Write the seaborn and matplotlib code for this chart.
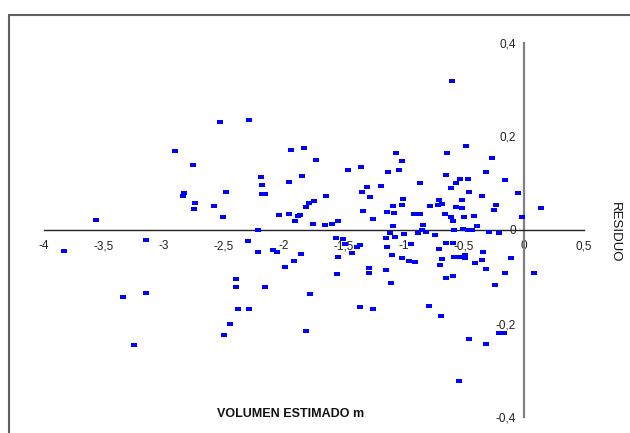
import matplotlib
matplotlib.use("Agg")
import matplotlib.pyplot as plt
from matplotlib.patches import Rectangle
from matplotlib.path import Path
from matplotlib.ticker import FuncFormatter, MultipleLocator
import seaborn as sns

# Volumen estimado (x) y residuo (y)
volumen = [
    -3.83, -3.57, -3.15, -3.34, -3.15, -3.25, -2.91, -2.76, -2.83, -2.84,
    -2.74, -2.75, -2.58, -2.53, -2.48, -2.51, -2.29, -2.19, -2.18, -2.18,
    -2.16, -2.22, -2.30, -2.22, -2.40, -2.40, -2.16, -2.38, -2.29, -2.45,
    -2.50, -2.04, -2.09, -2.06, -1.99, -1.92, -1.86, -1.94, -1.83, -1.96,
    -1.85, -1.73, -1.96, -1.88, -1.87, -1.91, -1.82, -1.79, -1.75, -1.65,
    -1.76, -1.66, -1.60, -1.55, -1.78, -1.82, -1.57, -1.51, -1.49, -1.55,
    -1.43, -1.39, -1.37, -1.56, -1.47, -1.36, -1.35, -1.31, -1.34, -1.28,
    -1.26, -1.19, -1.29, -1.29, -1.37, -1.26, -1.13, -1.07, -1.02, -1.04,
    -1.14, -1.08, -1.09, -1.02, -1.01, -1.09, -1.12, -1.15, -1.075, -1.00,
    -1.14, -1.10, -1.02, -1.15, -1.11, -0.96, -0.91, -0.94, -0.92, -0.87,
    -0.87, -0.84, -0.88, -0.85, -0.82, -0.78, -0.72, -0.71, -0.68, -0.74,
    -0.71, -0.68, -0.70, -0.79, -0.69, -0.64, -0.65, -0.66, -0.60, -0.61,
    -0.57, -0.53, -0.47, -0.57, -0.52, -0.52, -0.61, -0.59, -0.50, -0.58,
    -0.51, -0.47, -0.43, -0.65, -0.59, -0.65, -0.59, -0.58, -0.54, -0.51,
    -0.49, -0.49, -0.48, -0.46, -0.42, -0.39, -0.35, -0.32, -0.27, -0.29,
    -0.34, -0.35, -0.41, -0.32, -0.24, -0.46, -0.54, -0.32, -0.21, -0.17,
    -0.25, -0.23, -0.21, -0.16, -0.11, -0.16, -0.05, -0.02, 0.08, 0.14,
]
residuo = [
    -0.045, 0.021, -0.021, -0.143, -0.134, -0.245, 0.169, 0.138, 0.080, 0.073,
    0.058, 0.044, 0.051, 0.230, 0.082, 0.028, 0.235, 0.113, 0.096, 0.077,
    0.077, -0.001, -0.023, -0.048, -0.105, -0.121, -0.121, -0.169, -0.169, -0.200,
    -0.224, 0.032, -0.043, -0.048, -0.079, -0.067, -0.051, 0.171, 0.176, 0.103,
    0.115, 0.150, 0.034, 0.031, 0.033, 0.020, 0.049, 0.058, 0.063, 0.073,
    0.013, 0.011, 0.013, 0.020, -0.136, -0.217, -0.018, -0.020, -0.030, -0.057,
    -0.050, -0.037, -0.032, -0.095, 0.128, 0.134, 0.082, 0.091, 0.041, 0.070,
    0.023, 0.094, -0.081, -0.091, -0.164, -0.169, 0.125, 0.164, 0.147, 0.128,
    0.039, 0.036, 0.051, 0.053, 0.067, 0.008, -0.007, -0.018, -0.016, -0.009,
    -0.037, -0.053, -0.059, -0.086, -0.114, -0.066, -0.069, -0.030, 0.034, 0.034,
    0.100, 0.011, -0.007, 0.000, -0.004, 0.051, 0.054, 0.065, 0.056, -0.011,
    -0.041, -0.062, -0.074, -0.162, -0.184, 0.164, 0.118, 0.034, 0.319, 0.089,
    0.100, 0.110, 0.110, 0.050, 0.065, 0.048, 0.027, 0.020, 0.027, 0.001,
    0.003, 0.000, -0.001, -0.027, -0.027, -0.102, -0.098, -0.057, -0.057, -0.057,
    -0.053, -0.059, 0.179, 0.082, 0.030, 0.008, 0.073, 0.125, 0.154, -0.004,
    -0.048, -0.064, -0.071, -0.084, -0.117, -0.234, -0.324, -0.243, -0.221, -0.221,
    0.043, 0.053, -0.006, 0.107, -0.060, -0.091, 0.079, 0.027, -0.091, 0.047,
]

sns.set_style("white")
plt.rcParams["font.family"] = ["Liberation Sans", "DejaVu Sans"]

fig = plt.figure(figsize=(6.3, 4.33), dpi=100)
ax = fig.add_axes([44 / 630, 16 / 433, 540 / 630, 374 / 433])

# little flat rectangle marker, like the Excel dash
rect = Path([(-1, -0.55), (1, -0.55), (1, 0.55), (-1, 0.55), (-1, -0.55)],
            [Path.MOVETO, Path.LINETO, Path.LINETO, Path.LINETO, Path.CLOSEPOLY])
sns.scatterplot(x=volumen, y=residuo, marker=rect, s=17, color="#0000ff",
                linewidth=0, ax=ax, zorder=3)

ax.set_xlim(-4, 0.5)
ax.set_ylim(-0.4, 0.4)
ax.xaxis.set_major_locator(MultipleLocator(0.5))
ax.yaxis.set_major_locator(MultipleLocator(0.2))
fmt = FuncFormatter(lambda v, p: f"{v:g}".replace(".", ",") if abs(v) > 1e-9 else "0")
ax.xaxis.set_major_formatter(fmt)
ax.yaxis.set_major_formatter(fmt)

# axes crossing at the origin
ax.spines["left"].set_position(("data", 0))
ax.spines["bottom"].set_position(("data", 0))
ax.spines["top"].set_visible(False)
ax.spines["right"].set_visible(False)
ax.spines["left"].set_color("#808080")
ax.spines["left"].set_linewidth(1.6)
ax.spines["bottom"].set_color("#222222")
ax.spines["bottom"].set_linewidth(1.0)
ax.tick_params(axis="x", direction="inout", length=7, width=1, color="#222222",
               labelsize=8.5, pad=4, colors="#222222")
ax.tick_params(axis="y", direction="inout", length=6, width=1, color="#555555",
               labelsize=8.5, pad=3, colors="#222222")
ax.set_xlabel("")
ax.set_ylabel("")

fig.text(291 / 630, 1 - 414 / 433, "VOLUMEN ESTIMADO m", ha="center", va="center",
         fontsize=9, fontweight="bold", color="#111111")
fig.text(615 / 630, 1 - 232 / 433, "RESIDUO", ha="center", va="center",
         rotation=270, fontsize=9.5, color="#111111")

# outer frame of the chart area
fig.patches.append(Rectangle((9 / 630, -0.1), 1.2, 1.1 - 15 / 433, transform=fig.transFigure,
                             fill=False, edgecolor="#606060", linewidth=1.5))

fig.savefig("out.png", dpi=100)
